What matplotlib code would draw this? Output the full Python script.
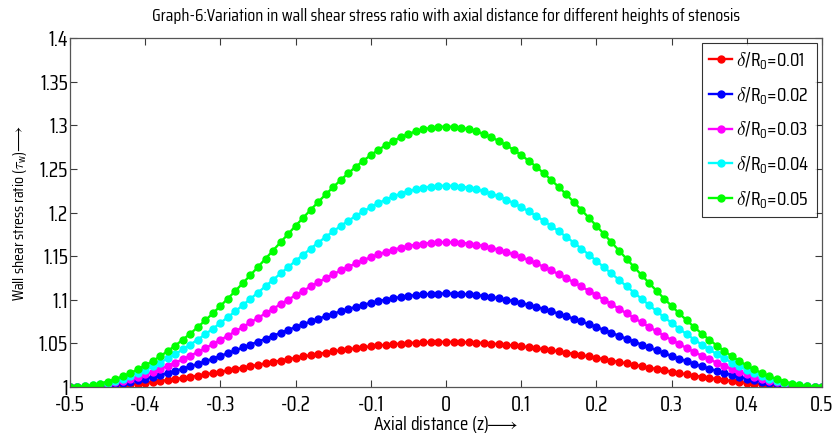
import numpy as np
import matplotlib.pyplot as plt

plt.rcParams['font.family'] = ['Saira Condensed', 'Pathway Gothic One', 'Oswald',
                               'Roboto Condensed', 'DejaVu Sans']
plt.rcParams['mathtext.fontset'] = 'custom'
plt.rcParams['mathtext.rm'] = 'Saira Condensed'
plt.rcParams['mathtext.it'] = 'Saira Condensed'
plt.rcParams['mathtext.bf'] = 'Saira Condensed'
plt.rcParams['mathtext.fallback'] = 'cm'

# axial distance grid, z = 0.00 .. 0.50 (curves are symmetric about z = 0)
z_half = np.round(np.arange(0, 51) * 0.01, 2)

# wall shear stress ratio for z = 0.00 .. 0.50
tau_001 = [1.0517, 1.0517, 1.0515, 1.0512, 1.0509, 1.0504, 1.0498, 1.0492, 1.0484, 1.0476,
           1.0466, 1.0456, 1.0445, 1.0433, 1.0421, 1.0408, 1.0394, 1.0380, 1.0365, 1.0350,
           1.0335, 1.0319, 1.0303, 1.0287, 1.0271, 1.0255, 1.0238, 1.0222, 1.0206, 1.0191,
           1.0175, 1.0160, 1.0145, 1.0131, 1.0117, 1.0104, 1.0091, 1.0080, 1.0068, 1.0058,
           1.0048, 1.0039, 1.0031, 1.0024, 1.0018, 1.0012, 1.0008, 1.0004, 1.0002, 1.0000,
           1.0000]
tau_002 = [1.1072, 1.1071, 1.1067, 1.1062, 1.1054, 1.1044, 1.1032, 1.1018, 1.1002, 1.0984,
           1.0964, 1.0942, 1.0919, 1.0894, 1.0868, 1.0840, 1.0811, 1.0782, 1.0751, 1.0719,
           1.0687, 1.0654, 1.0621, 1.0587, 1.0553, 1.0520, 1.0486, 1.0453, 1.0420, 1.0388,
           1.0356, 1.0325, 1.0295, 1.0265, 1.0237, 1.0210, 1.0185, 1.0161, 1.0138, 1.0117,
           1.0097, 1.0079, 1.0063, 1.0048, 1.0036, 1.0025, 1.0016, 1.0009, 1.0004, 1.0001,
           1.0000]
tau_003 = [1.1660, 1.1658, 1.1653, 1.1644, 1.1632, 1.1616, 1.1596, 1.1574, 1.1548, 1.1520,
           1.1488, 1.1454, 1.1417, 1.1377, 1.1336, 1.1292, 1.1247, 1.1200, 1.1152, 1.1102,
           1.1052, 1.1000, 1.0949, 1.0896, 1.0844, 1.0792, 1.0740, 1.0689, 1.0638, 1.0588,
           1.0539, 1.0492, 1.0446, 1.0401, 1.0359, 1.0318, 1.0279, 1.0242, 1.0208, 1.0175,
           1.0146, 1.0119, 1.0094, 1.0072, 1.0053, 1.0037, 1.0024, 1.0013, 1.0006, 1.0001,
           1.0000]
tau_004 = [1.2308, 1.2305, 1.2298, 1.2285, 1.2267, 1.2244, 1.2217, 1.2185, 1.2148, 1.2107,
           1.2062, 1.2013, 1.1960, 1.1905, 1.1846, 1.1784, 1.1720, 1.1654, 1.1586, 1.1516,
           1.1445, 1.1373, 1.1301, 1.1228, 1.1155, 1.1082, 1.1011, 1.0939, 1.0869, 1.0801,
           1.0734, 1.0668, 1.0605, 1.0544, 1.0486, 1.0430, 1.0377, 1.0327, 1.0280, 1.0237,
           1.0197, 1.0160, 1.0127, 1.0097, 1.0072, 1.0050, 1.0032, 1.0018, 1.0008, 1.0002,
           1.0000]
tau_005 = [1.2985, 1.2982, 1.2971, 1.2954, 1.2931, 1.2900, 1.2864, 1.2821, 1.2772, 1.2718,
           1.2658, 1.2593, 1.2524, 1.2450, 1.2372, 1.2291, 1.2207, 1.2120, 1.2030, 1.1939,
           1.1847, 1.1753, 1.1659, 1.1564, 1.1470, 1.1376, 1.1283, 1.1192, 1.1102, 1.1014,
           1.0928, 1.0845, 1.0764, 1.0687, 1.0612, 1.0542, 1.0475, 1.0412, 1.0352, 1.0297,
           1.0247, 1.0201, 1.0159, 1.0122, 1.0090, 1.0063, 1.0040, 1.0023, 1.0010, 1.0003,
           1.0000]

heights = ['0.01', '0.02', '0.03', '0.04', '0.05']
colors = ['#ff0000', '#0000ff', '#ff00ff', '#00ffff', '#00ff00']

xticks = [-0.5, -0.4, -0.3, -0.2, -0.1, 0, 0.1, 0.2, 0.3, 0.4, 0.5]
xtick_labels = ['-0.5', '-0.4', '-0.3', '-0.2', '-0.1', '0', '0.1', '0.2', '0.3', '0.4', '0.5']
yticks = [1, 1.05, 1.1, 1.15, 1.2, 1.25, 1.3, 1.35, 1.4]
ytick_labels = ['1', '1.05', '1.1', '1.15', '1.2', '1.25', '1.3', '1.35', '1.4']


def full_curve(half):
    # mirror the right half onto the left side
    half = np.asarray(half)
    return np.concatenate([half[::-1], half[1:]])


z = np.concatenate([-z_half[::-1], z_half[1:]])

fig = plt.figure(figsize=(8.36, 4.34), dpi=100)
ax = fig.add_axes([0.0837, 0.1083, 0.8996, 0.8041])

for tau, h, c in zip([tau_001, tau_002, tau_003, tau_004, tau_005], heights, colors):
    ax.plot(z, full_curve(tau), '-o', color=c, lw=1.7, ms=5, mec=c, mfc=c,
            label=r'$\delta/R_0$=' + h)

ax.set_xlim(-0.5, 0.5)
ax.set_ylim(1, 1.4)
ax.set_xticks(xticks)
ax.set_xticklabels(xtick_labels)
ax.set_yticks(yticks)
ax.set_yticklabels(ytick_labels)
ax.tick_params(direction='in', top=True, right=True, length=5, width=0.8,
               labelsize=15, colors='#3a3a3a', labelcolor='black')
ax.tick_params(axis='y', pad=1.5)
ax.tick_params(axis='x', pad=5.5)
for sp in ax.spines.values():
    sp.set_color('#555555')
    sp.set_linewidth(0.9)

ax.set_xlabel(r'Axial distance (z)$\!\!\longrightarrow$', fontsize=14, labelpad=-0.5)
ax.set_ylabel(r'Wall shear stress ratio ($\tau_w$)$\!\longrightarrow$', fontsize=11.5, labelpad=7)
ax.set_title('Graph-6:Variation in wall shear stress ratio with axial distance for different heights of stenosis',
             fontsize=12.8, pad=12)

leg = ax.legend(loc='upper right', fontsize=14, frameon=True, fancybox=False,
                borderaxespad=0.25, handlelength=1.2, handletextpad=0.2,
                labelspacing=0.7, borderpad=0.38)
leg.get_frame().set_edgecolor('black')
leg.get_frame().set_linewidth(0.8)

plt.savefig('out.png', dpi=100)
